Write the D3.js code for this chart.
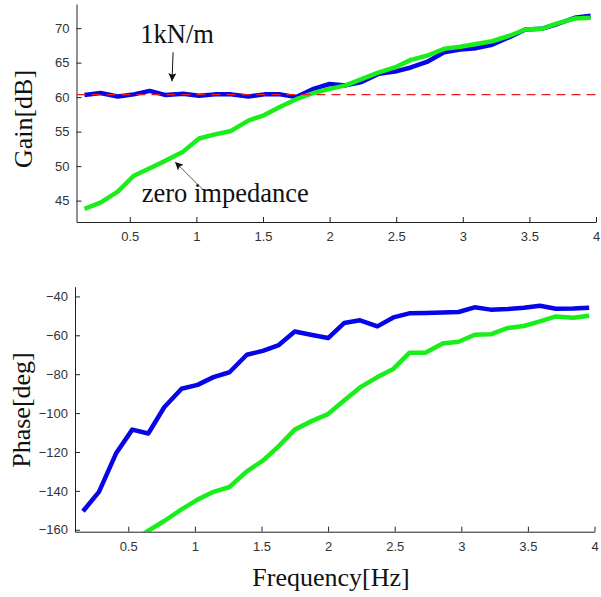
<!DOCTYPE html>
<html>
<head>
<meta charset="utf-8">
<script src="https://cdn.jsdelivr.net/npm/d3@7"></script>
<style>
  body { margin: 0; background: #fff; }
  .tick text { font-family: "Liberation Sans", Arial, sans-serif; font-size: 13px; fill: #333; }
  .axis path, .axis line { stroke: #222; }
  .label { font-family: "Liberation Serif", "Times New Roman", serif; font-size: 26px; fill: #111; }
  .note { font-family: "Liberation Serif", "Times New Roman", serif; font-size: 26.5px; fill: #111; }
</style>
</head>
<body>
<div id="chart"></div>
<script>
// sample frequencies [Hz]
const freq = [0.16, 0.28, 0.41, 0.53, 0.65, 0.77, 0.90, 1.02, 1.14, 1.26, 1.39, 1.51, 1.63, 1.75, 1.88, 2.00,
  2.12, 2.24, 2.37, 2.49, 2.61, 2.73, 2.86, 2.98, 3.10, 3.22, 3.35, 3.47, 3.59, 3.71, 3.84, 3.96];

// 1kN/m case
const gainStiff = [60.3, 60.6, 60.1, 60.4, 60.9, 60.3, 60.5, 60.2, 60.4, 60.4, 60.1, 60.4, 60.4, 60.0, 61.2, 61.9,
  61.7, 62.2, 63.4, 63.7, 64.3, 65.1, 66.5, 66.9, 67.1, 67.6, 68.7, 69.8, 69.9, 70.6, 71.5, 71.8];
const phaseStiff = [-150.5, -140.5, -120.5, -108.5, -110.5, -97, -87.5, -85.5, -81.5, -79, -70, -68, -65, -58, -59.8, -61.4,
  -53.7, -52.3, -55.4, -50.8, -48.7, -48.5, -48.3, -48, -45.6, -46.8, -46.5, -45.8, -44.8, -46.3, -46.2, -45.8];

// zero impedance case
const gainZero = [43.8, 44.7, 46.3, 48.6, 49.7, 50.8, 52.1, 54.0, 54.6, 55.1, 56.6, 57.4, 58.6, 59.7, 60.6, 61.2,
  61.7, 62.6, 63.6, 64.3, 65.4, 66.0, 67.0, 67.3, 67.7, 68.1, 68.9, 69.8, 69.9, 70.7, 71.4, 71.5];
const phaseZero = [-182, -177, -171, -166, -160.5, -155.5, -149.5, -144.5, -140.5, -138, -130, -124.5, -117, -108.5, -104, -100.5,
  -93.5, -86.8, -81.5, -77.3, -69, -69, -64.2, -63.3, -59.7, -59.5, -56.2, -55.2, -52.8, -50.3, -51, -49.9];

const refGain = 60.35;
const xTicks = [0.5, 1, 1.5, 2, 2.5, 3, 3.5, 4];
const gainTicks = [45, 50, 55, 60, 65, 70];
const phaseTicks = [-160, -140, -120, -100, -80, -60, -40];

const width = 601, height = 597;
const svg = d3.select("#chart").append("svg")
  .attr("width", width)
  .attr("height", height);

// arrowhead
svg.append("defs").append("marker")
  .attr("id", "arrow")
  .attr("viewBox", "0 0 10 10")
  .attr("refX", 10).attr("refY", 5)
  .attr("markerWidth", 10).attr("markerHeight", 8)
  .attr("markerUnits", "userSpaceOnUse")
  .attr("orient", "auto")
  .append("path")
  .attr("d", "M0,0 L10,5 L0,10 L2,5 z")
  .attr("fill", "#111");

function panel(opts) {
  const x = d3.scaleLinear().domain([0.1, 4]).range(opts.xr);
  const y = d3.scaleLinear().domain(opts.yd).range(opts.yr);
  const g = svg.append("g");

  const clipId = "clip" + opts.name;
  g.append("clipPath").attr("id", clipId)
    .append("rect")
    .attr("x", opts.xr[0]).attr("y", opts.yr[1])
    .attr("width", opts.xr[1] - opts.xr[0])
    .attr("height", opts.yr[0] - opts.yr[1]);

  const line = (vals) => d3.line()
    .x((d, i) => x(freq[i]))
    .y(d => y(d))(vals);

  const plot = g.append("g").attr("clip-path", `url(#${clipId})`);
  plot.append("path")
    .attr("d", line(opts.blue))
    .attr("fill", "none").attr("stroke", "#0505e8")
    .attr("stroke-width", 4.5).attr("stroke-linejoin", "round");
  plot.append("path")
    .attr("d", line(opts.green))
    .attr("fill", "none").attr("stroke", "#1aee1a")
    .attr("stroke-width", 4.5).attr("stroke-linejoin", "round");

  // axes (ticks pointing inward)
  g.append("g")
    .attr("class", "axis")
    .attr("transform", `translate(0,${opts.yr[0]})`)
    .call(d3.axisBottom(x).tickValues(xTicks).tickSizeInner(-5).tickSizeOuter(0).tickPadding(10).tickFormat(d3.format("")));
  g.append("g")
    .attr("class", "axis")
    .attr("transform", `translate(${opts.xr[0]},0)`)
    .call(d3.axisLeft(y).tickValues(opts.yt).tickSizeInner(-5).tickSizeOuter(0).tickPadding(7));

  g.append("text")
    .attr("class", "label")
    .attr("transform", `translate(${opts.labelX},${opts.labelY}) rotate(-90)`)
    .attr("text-anchor", "middle")
    .attr("dy", "0.35em")
    .text(opts.ylabel);

  return { x, y, g };
}

const gainPanel = panel({
  name: "gain", xr: [76.5, 596], yr: [222, 4], yd: [41.9, 73.5], yt: gainTicks,
  blue: gainStiff, green: gainZero, ylabel: "Gain[dB]", labelX: 23, labelY: 119
});

// reference level
gainPanel.g.append("line")
  .attr("x1", gainPanel.x(0.1)).attr("x2", gainPanel.x(4))
  .attr("y1", gainPanel.y(refGain)).attr("y2", gainPanel.y(refGain))
  .attr("stroke", "#e8202a").attr("stroke-width", 1.2)
  .attr("stroke-dasharray", "9,6");

// annotations
gainPanel.g.append("text").attr("class", "note")
  .attr("x", gainPanel.x(0.855)).attr("y", gainPanel.y(67.9))
  .attr("text-anchor", "middle")
  .text("1kN/m");
gainPanel.g.append("line")
  .attr("x1", gainPanel.x(0.825)).attr("y1", gainPanel.y(66.5))
  .attr("x2", gainPanel.x(0.817)).attr("y2", gainPanel.y(62.3))
  .attr("stroke", "#111").attr("stroke-width", 1)
  .attr("marker-end", "url(#arrow)");

gainPanel.g.append("text").attr("class", "note")
  .attr("x", gainPanel.x(0.59)).attr("y", gainPanel.y(44.8))
  .text("zero impedance");
gainPanel.g.append("line")
  .attr("x1", gainPanel.x(1.06)).attr("y1", gainPanel.y(46.4))
  .attr("x2", gainPanel.x(0.84)).attr("y2", gainPanel.y(50.6))
  .attr("stroke", "#333").attr("stroke-width", 0.8)
  .attr("marker-end", "url(#arrow)");

const phasePanel = panel({
  name: "phase", xr: [75, 594.5], yr: [531.7, 286.7], yd: [-161, -35], yt: phaseTicks,
  blue: phaseStiff, green: phaseZero, ylabel: "Phase[deg]", labelX: 21, labelY: 410
});

svg.append("text")
  .attr("class", "label")
  .attr("x", 331).attr("y", 586)
  .attr("text-anchor", "middle")
  .text("Frequency[Hz]");
</script>
</body>
</html>
